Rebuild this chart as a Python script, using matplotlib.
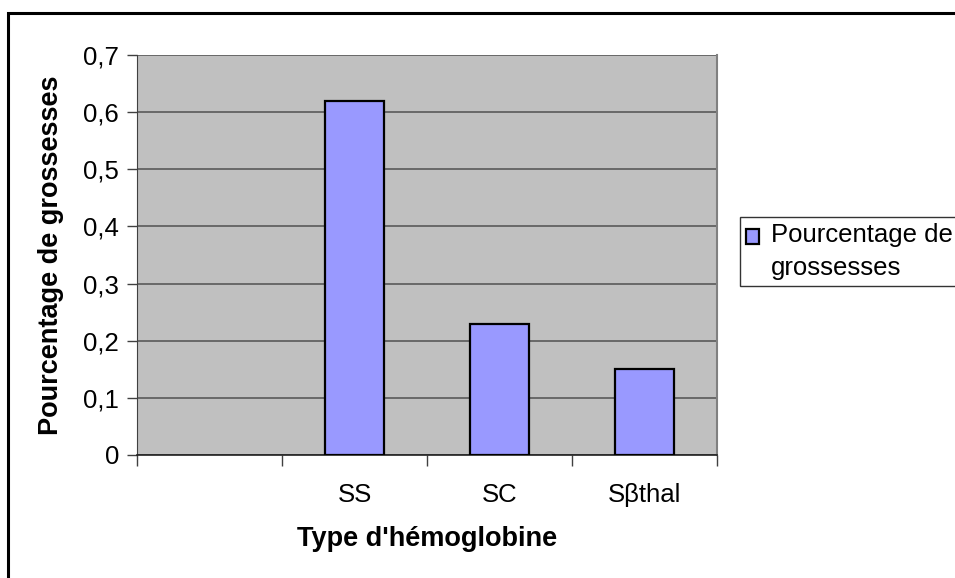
import numpy as np
import matplotlib
matplotlib.use("Agg")
import matplotlib.pyplot as plt
from matplotlib.patches import Rectangle
from matplotlib.container import BarContainer
from matplotlib.legend_handler import HandlerPatch, update_from_first_child

plt.rcParams['font.family'] = ['Liberation Sans', 'DejaVu Sans']

# data (first category slot is empty)
categories = ['', 'SS', 'SC', 'Sβthal']
values = [np.nan, 0.62, 0.23, 0.15]
y_ticks = [0, 0.1, 0.2, 0.3, 0.4, 0.5, 0.6, 0.7]
y_tick_labels = ['0', '0,1', '0,2', '0,3', '0,4', '0,5', '0,6', '0,7']
series_name = 'Pourcentage de\ngrossesses'

W, H = 955, 578
fig = plt.figure(figsize=(W / 100, H / 100), dpi=100)
ax = fig.add_axes([137 / W, 1 - 455 / H, 580 / W, 400 / H])
ax.set_facecolor('#C0C0C0')

x = np.arange(len(categories))
ax.bar(x, values, width=0.41, color='#9999FF', edgecolor='black', linewidth=1.6,
       label=series_name, zorder=3)

ax.set_xlim(-0.5, len(categories) - 0.5)
ax.set_ylim(0, 0.7)

# gridlines
ax.set_yticks(y_ticks)
ax.set_yticklabels(y_tick_labels, fontsize=18.5)
ax.yaxis.grid(True, color='#505050', linewidth=1.1, zorder=1)
ax.tick_params(axis='y', direction='out', length=7, width=1, color='#404040', pad=6)

# x ticks at category boundaries, labels at centres
ax.set_xticks(np.arange(len(categories) + 1) - 0.5)
ax.set_xticklabels([])
ax.set_xticks(x, minor=True)
ax.set_xticklabels(categories, minor=True, fontsize=18.5)
ax.tick_params(axis='x', which='major', direction='out', length=8, width=1, color='#404040')
ax.tick_params(axis='x', which='minor', length=0, pad=20)

ax.spines['top'].set_visible(False)
ax.spines['right'].set_color('#808080')
ax.spines['right'].set_linewidth(1.5)
ax.spines['left'].set_color('#404040')
ax.spines['bottom'].set_color('#202020')
ax.spines['bottom'].set_linewidth(1.2)

ax.set_ylabel('Pourcentage de grossesses', fontsize=19.5, fontweight='bold', labelpad=14)
ax.set_xlabel("Type d'hémoglobine", fontsize=19.5, fontweight='bold', labelpad=14)


# legend square sits next to the first text line, like Excel
def top_square(legend, orig_handle, xdescent, ydescent, width, height, fontsize):
    return Rectangle((-xdescent, -ydescent + 0.6 * fontsize), width, height)


leg = fig.legend(loc='upper left', bbox_to_anchor=(740 / W, 1 - 217 / H),
                 fontsize=18.5, frameon=True, fancybox=False, edgecolor='black',
                 handlelength=0.5, handleheight=0.5, handletextpad=0.45,
                 borderpad=0.25, labelspacing=0.1, borderaxespad=0,
                 handler_map={BarContainer: HandlerPatch(patch_func=top_square,
                                                         update_func=update_from_first_child)})
leg.get_frame().set_linewidth(1)
for t in leg.get_texts():
    t.set_linespacing(1.45)

# outer chart border (cut off at right/bottom)
fig.patches.append(Rectangle((8 / W, -0.02), 1.05, 1 - 13 / H + 0.02,
                             transform=fig.transFigure, fill=False,
                             edgecolor='black', linewidth=2.2))

fig.savefig('out.png', dpi=100)
